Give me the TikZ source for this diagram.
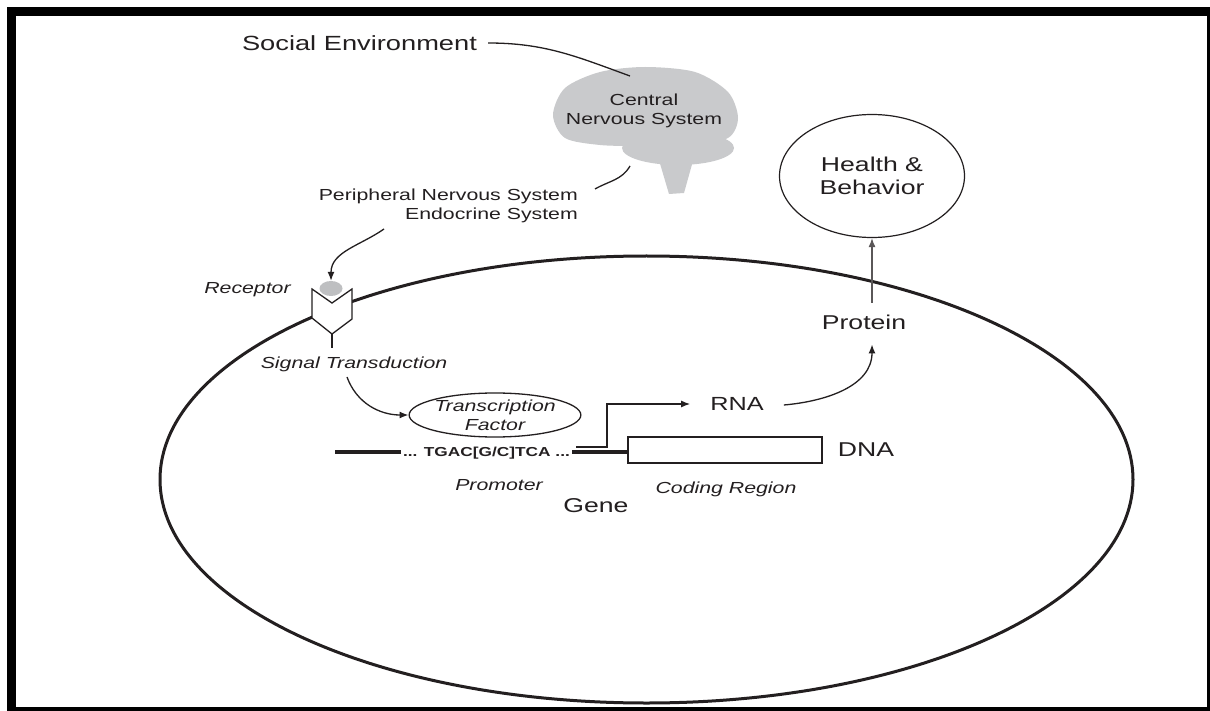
\documentclass[tikz,border=0pt]{standalone}
\usepackage{fontspec}
\setmainfont{Liberation Sans}[FakeStretch=1.33]
\usepackage{xcolor}
\usetikzlibrary{calc, shapes, arrows, arrows.meta, positioning}

\definecolor{ink}{RGB}{35,31,32}
\definecolor{braingray}{RGB}{201,202,204}
\definecolor{ligandgray}{RGB}{190,191,193}

\tikzset{
	big/.style={inner sep=0pt, text=ink, text depth=0pt, font=\fontsize{20}{23}\selectfont},
	small/.style={inner sep=0pt, text=ink, text depth=0pt, font=\fontsize{16}{19}\selectfont},
	smallit/.style={small, font=\fontsize{16}{19}\selectfont\itshape},
	wire/.style={draw=ink, line width=1.3pt},
	tip/.style={-{Latex[length=9pt, width=7pt]}},
}

\begin{document}
\begin{tikzpicture}[x=1pt, y=-1pt]
		\useasboundingbox (0,0) rectangle (1210,711);
		\fill[black] (7,7) rectangle (1210,711);
		\fill[white] (16,16) rectangle (1207,707);
		% cell membrane
		\draw[ink, line width=3pt] (646.5,479.5) ellipse [x radius=486.5, y radius=223.5];
		% brain
		\fill[braingray] plot[smooth cycle] coordinates {(553,115) (565,88) (600,72) (645,67) (695,72) (728,92) (738,118) (728,138) (690,146) (640,146) (600,145) (565,138)};
		\fill[braingray] (678,148) ellipse [x radius=56, y radius=17];
		\fill[braingray] (656,150) -- (696,150) -- (684,193) -- (669,194) -- cycle;
		\coordinate (braintop) at (630,76);
		\coordinate (brainbase) at (630,166);
		\node[small, align=center] (cns) at (644,109) {Central\\Nervous System};
		\node[big, font=\fontsize{20.5}{23}\selectfont] (social) at (359.5,43) {Social Environment};
		\node[small, align=right, anchor=east] (pns) at (578,204.5) {Peripheral Nervous System\\Endocrine System};
		\path[wire] ($(social.east)+(11,0)$) to[out=0, in=160] (braintop);
		\path[wire] ($(pns.north east)+(17,0)$) to[out=30, in=-120] (brainbase);
		% receptor
		\draw[ink, line width=1.3pt, fill=white] (312,289) -- (332,303) -- (352,289) -- (352,319) -- (332,334) -- (312,318) -- cycle;
		\draw[ink, line width=1.3pt] (332,334) -- (332,348);
		\node[ellipse, fill=ligandgray, minimum width=23pt, minimum height=15pt, inner sep=0pt] (ligand) at (331,288.5) {};
		\node[smallit] (receptor) at (247.5,288) {Receptor};
		\node[smallit] (signal) at (354,363) {Signal Transduction};
		\coordinate (hormone) at (384,229);
		\path[wire, tip] (hormone) to[out=215, in=90] (ligand.north);
		% transcription factor
		\node[ellipse, draw=ink, line width=1.3pt, minimum width=170pt, minimum height=44pt, small, align=center] (tf) at (495,415) {\itshape Transcription\\\itshape Factor};
		\path[wire, tip] ($(signal.south)+(-7,8)$) to[out=-70, in=180] (tf.west);
		% gene
		\coordinate (dnastart) at (335,452);
		\node[inner sep=2pt, text=ink, text depth=0pt, font=\fontsize{13}{15}\selectfont\bfseries] (seq) at (486.5,452) {... TGAC[G/C]TCA ...};
		\node[draw=ink, line width=1.3pt, minimum width=194pt, minimum height=26pt, inner sep=0pt] (coding) at (725,450) {};
		\draw[ink, line width=4pt] (dnastart) -- (seq.west);
		\draw[ink, line width=4pt] (seq.east) -- (seq.east -| coding.west);
		\node[big, right=15pt of coding] (dna) {DNA};
		\node[smallit] (promoter) at (499,485) {Promoter};
		\node[smallit] (codreg) at (726,488) {Coding Region};
		\node[big] (gene) at (596,506) {Gene};
		% expression
		\node[big, font=\fontsize{19}{22}\selectfont] (rna) at (737,404) {RNA};
		\node[big] (protein) at (864,322) {Protein};
		\node[ellipse, draw=ink, line width=1.2pt, minimum width=185pt, minimum height=123pt, big, align=center] (health) at (872,176) {Health \&\\Behavior};
		\coordinate (tss) at (576,447);
		\path[wire, tip] (tss) -- ++(31,0) |- ($(rna.west)+(-20,0)$);
		\path[wire, tip] ($(rna.east)+(20,1)$) to[out=5, in=-90] ($(protein.south)+(8,15)$);
		\path[wire, draw=ink!75, tip] ($(protein.north -| health.south)+(0,-12)$) -- (health.south);
	\end{tikzpicture}
\end{document}
